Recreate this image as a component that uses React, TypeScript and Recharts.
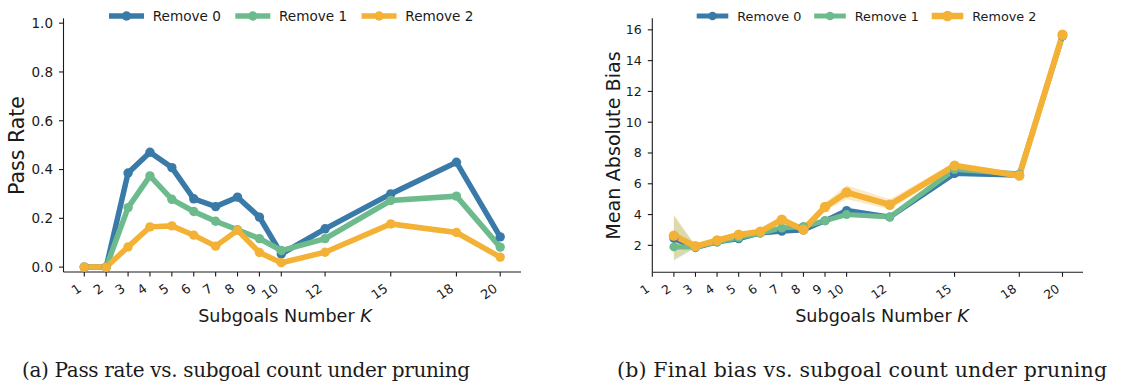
import React from "react";
import { ComposedChart, LineChart, Line, Area, XAxis, YAxis, Legend } from "recharts";

// (a) pass rate
const kPass = [1, 2, 3, 4, 5, 6, 7, 8, 9, 10, 12, 15, 18, 20];
const passRemove0 = [0, 0, 0.386, 0.471, 0.408, 0.28, 0.248, 0.287, 0.205, 0.054, 0.157, 0.3, 0.43, 0.124];
const passRemove1 = [0, 0, 0.244, 0.374, 0.278, 0.228, 0.188, 0.153, 0.117, 0.068, 0.117, 0.273, 0.291, 0.082];
const passRemove2 = [0, 0, 0.083, 0.165, 0.169, 0.131, 0.086, 0.151, 0.06, 0.018, 0.061, 0.177, 0.142, 0.041];

// (b) mean absolute bias, with shaded bands
const kBias = [2, 3, 4, 5, 6, 7, 8, 9, 10, 12, 15, 18, 20];
const biasRemove0 = [2.45, 1.85, 2.22, 2.43, 2.8, 2.92, 3.0, 3.6, 4.27, 3.84, 6.66, 6.55, 15.6];
const biasRemove1 = [1.9, 1.9, 2.22, 2.5, 2.8, 3.13, 3.23, 3.6, 4.0, 3.84, 6.92, 6.64, 15.6];
const biasRemove2 = [2.63, 1.94, 2.32, 2.69, 2.89, 3.67, 3.02, 4.49, 5.44, 4.64, 7.18, 6.53, 15.68];
const bandLow0 = [1.9, 1.8, 2.15, 2.35, 2.7, 2.8, 2.9, 3.5, 4.05, 3.7, 6.5, 6.4, 15.4];
const bandHigh0 = [3.0, 1.9, 2.3, 2.5, 2.9, 3.05, 3.1, 3.7, 4.5, 3.95, 6.8, 6.7, 15.8];
const bandLow1 = [1.0, 1.85, 2.15, 2.4, 2.7, 2.95, 3.1, 3.5, 3.85, 3.7, 6.75, 6.5, 15.4];
const bandHigh1 = [3.9, 1.95, 2.3, 2.6, 2.9, 3.3, 3.35, 3.7, 4.15, 3.95, 7.1, 6.8, 15.8];
const bandLow2 = [1.1, 1.85, 2.25, 2.6, 2.8, 3.45, 2.9, 4.25, 5.0, 4.35, 6.95, 6.35, 15.5];
const bandHigh2 = [4.0, 2.0, 2.4, 2.8, 3.0, 3.9, 3.15, 4.75, 5.9, 5.0, 7.4, 6.7, 16.0];

const xTicksA = [1, 2, 3, 4, 5, 6, 7, 8, 9, 10, 12, 15, 18, 20];
const xTicksB = [1, 2, 3, 4, 5, 6, 7, 8, 9, 10, 12, 15, 18, 20];
const yTicksA = [0, 0.2, 0.4, 0.6, 0.8, 1.0];
const yTicksB = [2, 4, 6, 8, 10, 12, 14, 16];
const seriesNames = ["Remove 0", "Remove 1", "Remove 2"];

const BLUE = "#3a7aa8";
const GREEN = "#6dbb8c";
const ORANGE = "#f3b136";
const INK = "#1a1a1a";
const FONT = "DejaVu Sans";

const passData = kPass.map((k, i) => ({
  k,
  r0: passRemove0[i],
  r1: passRemove1[i],
  r2: passRemove2[i],
}));

const biasData = kBias.map((k, i) => ({
  k,
  r0: biasRemove0[i],
  r1: biasRemove1[i],
  r2: biasRemove2[i],
  b0: [bandLow0[i], bandHigh0[i]],
  b1: [bandLow1[i], bandHigh1[i]],
  b2: [bandLow2[i], bandHigh2[i]],
}));

const SlantTick = ({ x, y, payload, fontSize }: any) => {
  const ax = x - 2;
  const ay = y + 12.5;
  return (
    <text
      x={ax}
      y={ay}
      transform={`rotate(-35, ${ax}, ${ay})`}
      textAnchor="end"
      fontSize={fontSize}
      fontFamily={FONT}
      fill={INK}
    >
      {payload.value}
    </text>
  );
};

interface LegendCfg {
  width: number;
  start: number;
  step: number;
  lineLen: number;
  textGap: number;
  fontSize: number;
  widths: number[];
  radii: number[];
}

const makeLegend = (cfg: LegendCfg) => () => {
  const colors = [BLUE, GREEN, ORANGE];
  const cy = 16;
  return (
    <svg width={cfg.width} height={32} style={{ display: "block" }}>
      {seriesNames.map((name, i) => {
        const x0 = cfg.start + i * cfg.step;
        return (
          <g key={name}>
            <line x1={x0} x2={x0 + cfg.lineLen} y1={cy} y2={cy} stroke={colors[i]} strokeWidth={cfg.widths[i]} />
            <circle cx={x0 + cfg.lineLen / 2} cy={cy} r={cfg.radii[i]} fill={colors[i]} />
            <text
              x={x0 + cfg.textGap}
              y={cy + cfg.fontSize * 0.36}
              fontSize={cfg.fontSize}
              fontFamily={FONT}
              fill={INK}
            >
              {name}
            </text>
          </g>
        );
      })}
    </svg>
  );
};

const legendA = makeLegend({
  width: 560,
  start: 109,
  step: 126.3,
  lineLen: 35,
  textGap: 43.7,
  fontSize: 13.6,
  widths: [5.5, 5.5, 5.5],
  radii: [4.7, 4.7, 4.7],
});

const legendB = makeLegend({
  width: 563,
  start: 136.7,
  step: 117.5,
  lineLen: 31.6,
  textGap: 40.6,
  fontSize: 12.8,
  widths: [5, 5, 6.5],
  radii: [4.3, 4.3, 5.3],
});

const axisStyle = { stroke: INK, strokeWidth: 1.1 };

export default function App() {
  return (
    <div
      style={{
        position: "absolute",
        left: 0,
        top: 0,
        width: 1123,
        height: 381,
        background: "#fff",
        overflow: "hidden",
      }}
    >
      <div style={{ position: "absolute", left: 0, top: 0 }}>
        <LineChart width={560} height={381} data={passData} margin={{ top: 18.3, right: 39, bottom: 0, left: 0 }}>
          <XAxis
            dataKey="k"
            type="number"
            domain={[0.05, 20.95]}
            ticks={xTicksA}
            interval={0}
            allowDataOverflow
            height={109}
            tickSize={4.5}
            tickMargin={1.5}
            axisLine={axisStyle}
            tickLine={axisStyle}
            tick={<SlantTick fontSize={13} />}
          />
          <YAxis
            type="number"
            domain={[-0.02, 1.02]}
            ticks={yTicksA}
            allowDataOverflow
            width={63.5}
            tickSize={4.5}
            tickMargin={6}
            axisLine={axisStyle}
            tickLine={axisStyle}
            tickFormatter={(v: number) => v.toFixed(1)}
            tick={{ fontSize: 13.5, fontFamily: FONT, fill: INK }}
          />
          <Legend verticalAlign="middle" align="center" content={legendA} wrapperStyle={{ top: 0, left: 0, width: 560, height: 32 }} />
          <Line type="linear" dataKey="r0" name="Remove 0" stroke={BLUE} strokeWidth={5.5} dot={{ r: 4.7, fill: BLUE, stroke: "none" }} activeDot={false} isAnimationActive={false} />
          <Line type="linear" dataKey="r1" name="Remove 1" stroke={GREEN} strokeWidth={5.5} dot={{ r: 4.7, fill: GREEN, stroke: "none" }} activeDot={false} isAnimationActive={false} />
          <Line type="linear" dataKey="r2" name="Remove 2" stroke={ORANGE} strokeWidth={5.5} dot={{ r: 4.7, fill: ORANGE, stroke: "none" }} activeDot={false} isAnimationActive={false} />
        </LineChart>
      </div>

      <div style={{ position: "absolute", left: 560, top: 0 }}>
        <ComposedChart width={563} height={381} data={biasData} margin={{ top: 18.3, right: 40, bottom: 0, left: 0 }}>
          <XAxis
            dataKey="k"
            type="number"
            domain={[1, 20.95]}
            ticks={xTicksB}
            interval={0}
            allowDataOverflow
            height={108.7}
            tickSize={4.5}
            tickMargin={1.5}
            axisLine={axisStyle}
            tickLine={axisStyle}
            tick={<SlantTick fontSize={12.3} />}
          />
          <YAxis
            type="number"
            domain={[0.25, 16.75]}
            ticks={yTicksB}
            allowDataOverflow
            width={92.3}
            tickSize={4.5}
            tickMargin={6}
            axisLine={axisStyle}
            tickLine={axisStyle}
            tick={{ fontSize: 12.6, fontFamily: FONT, fill: INK }}
          />
          <Legend verticalAlign="middle" align="center" content={legendB} wrapperStyle={{ top: 0, left: 0, width: 563, height: 32 }} />
          <Area type="linear" dataKey="b0" stroke="none" fill={BLUE} fillOpacity={0.2} legendType="none" activeDot={false} isAnimationActive={false} />
          <Area type="linear" dataKey="b1" stroke="none" fill={GREEN} fillOpacity={0.3} legendType="none" activeDot={false} isAnimationActive={false} />
          <Area type="linear" dataKey="b2" stroke="none" fill={ORANGE} fillOpacity={0.28} legendType="none" activeDot={false} isAnimationActive={false} />
          <Line type="linear" dataKey="r0" name="Remove 0" stroke={BLUE} strokeWidth={5} dot={{ r: 4.5, fill: BLUE, stroke: "none" }} activeDot={false} isAnimationActive={false} />
          <Line type="linear" dataKey="r1" name="Remove 1" stroke={GREEN} strokeWidth={5} dot={{ r: 4.5, fill: GREEN, stroke: "none" }} activeDot={false} isAnimationActive={false} />
          <Line type="linear" dataKey="r2" name="Remove 2" stroke={ORANGE} strokeWidth={6} dot={{ r: 5.2, fill: ORANGE, stroke: "none" }} activeDot={false} isAnimationActive={false} />
        </ComposedChart>
      </div>

      {/* axis titles and captions */}
      <svg width={1123} height={381} style={{ position: "absolute", left: 0, top: 0, pointerEvents: "none" }}>
        <text x={285} y={322} textAnchor="middle" fontSize={17.6} fontFamily={FONT} fill={INK}>
          Subgoals Number <tspan fontStyle="italic">K</tspan>
        </text>
        <text x={882} y={322} textAnchor="middle" fontSize={17.6} fontFamily={FONT} fill={INK}>
          Subgoals Number <tspan fontStyle="italic">K</tspan>
        </text>
        <text x={24} y={145.5} transform="rotate(-90, 24, 145.5)" textAnchor="middle" fontSize={20.5} fontFamily={FONT} fill={INK}>
          Pass Rate
        </text>
        <text x={619.5} y={145.5} transform="rotate(-90, 619.5, 145.5)" textAnchor="middle" fontSize={19.2} fontFamily={FONT} fill={INK}>
          Mean Absolute Bias
        </text>
        <text x={22} y={377} fontSize={20} fontFamily="DejaVu Serif" fill={INK} textLength={448} lengthAdjust="spacing">
          (a) Pass rate vs. subgoal count under pruning
        </text>
        <text x={617} y={377} fontSize={20.5} fontFamily="DejaVu Serif" fill={INK} textLength={490} lengthAdjust="spacing">
          (b) Final bias vs. subgoal count under pruning
        </text>
      </svg>
    </div>
  );
}
